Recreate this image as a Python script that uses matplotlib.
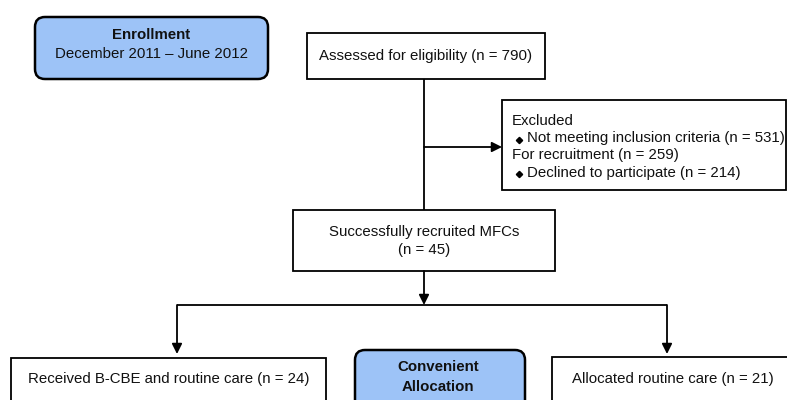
import matplotlib
matplotlib.use("Agg")
import matplotlib.pyplot as plt
from matplotlib.patches import FancyBboxPatch, Rectangle

plt.rcParams['font.family'] = ['Liberation Sans', 'DejaVu Sans']

enroll_title = "Enrollment"
enroll_dates = "December 2011 \u2013 June 2012"
assessed_label = "Assessed for eligibility (n = 790)"
excluded_lines = ["Excluded",
                  "Not meeting inclusion criteria (n = 531)",
                  "For recruitment (n = 259)",
                  "Declined to participate (n = 214)"]
excluded_bullets = [False, True, False, True]
recruited_lines = ["Successfully recruited MFCs", "(n = 45)"]
group_a_label = "Received B-CBE and routine care (n = 24)"
group_b_label = "Allocated routine care (n = 21)"
alloc_title = "Convenient\nAllocation"

W, H = 787, 400
fig = plt.figure(figsize=(W / 100, H / 100), dpi=100)
ax = fig.add_axes([0, 0, 1, 1])
ax.set_xlim(0, W)
ax.set_ylim(H, 0)
ax.axis('off')

blue = '#9DC3F7'
fs = 10.8
tc = '#111111'

def rect(x0, y0, x1, y1):
    ax.add_patch(Rectangle((x0, y0), x1 - x0, y1 - y0, fc='white', ec='black', lw=1.3, zorder=2))

def rbox(x0, y0, x1, y1):
    ax.add_patch(FancyBboxPatch((x0 + 8, y0 + 8), x1 - x0 - 16, y1 - y0 - 16,
                                boxstyle="round,pad=8,rounding_size=10",
                                fc=blue, ec='black', lw=1.8, zorder=2))

def line(xs, ys):
    ax.plot(xs, ys, color='black', lw=1.3, zorder=1, solid_capstyle='butt')

def arrow(x0, y0, x1, y1):
    ax.annotate('', xy=(x1, y1), xytext=(x0, y0),
                arrowprops=dict(arrowstyle='-|>,head_length=0.6,head_width=0.3',
                                color='black', lw=1.3, shrinkA=0, shrinkB=0), zorder=3)

# Enrollment
rbox(35, 17, 268, 79)
ax.text(151.5, 35, enroll_title, ha='center', va='center', fontsize=fs, fontweight='bold', color=tc, zorder=4)
ax.text(151.5, 54, enroll_dates, ha='center', va='center', fontsize=fs, color=tc, zorder=4)

# Assessed
rect(307, 33, 545, 79)
ax.text(426, 56, assessed_label, ha='center', va='center', fontsize=fs, color=tc, zorder=4)

# Line down
line([424, 424], [79, 210])
arrow(424, 147, 502, 147)

# Excluded
rect(502, 100, 786, 190)
for i, (t, b) in enumerate(zip(excluded_lines, excluded_bullets)):
    y = 121 + i * 17.2
    if b:
        ax.plot([518.5], [y + 1.5], marker='D', ms=3.2, color='black', zorder=4)
        ax.text(527, y, t, ha='left', va='center', fontsize=fs, color=tc, zorder=4)
    else:
        ax.text(512, y, t, ha='left', va='center', fontsize=fs, color=tc, zorder=4)

# Recruited
rect(293, 210, 555, 271)
ax.text(424, 232, recruited_lines[0], ha='center', va='center', fontsize=fs, color=tc, zorder=4)
ax.text(424, 250, recruited_lines[1], ha='center', va='center', fontsize=fs, color=tc, zorder=4)

arrow(424, 271, 424, 305)
line([177, 667], [305, 305])
arrow(177, 305, 177, 354)
arrow(667, 305, 667, 354)

# Bottom boxes
rect(11, 358, 326, 420)
ax.text(168.5, 379, group_a_label, ha='center', va='center', fontsize=fs, color=tc, zorder=4)
rbox(355, 350, 525, 430)
ax.text(438, 377, alloc_title, ha='center', va='center', fontsize=fs, fontweight='bold',
        linespacing=1.5, color=tc, zorder=4)
rect(552, 357, 800, 420)
ax.text(673, 379, group_b_label, ha='center', va='center', fontsize=fs, color=tc, zorder=4)

fig.savefig('out.png', dpi=100)
